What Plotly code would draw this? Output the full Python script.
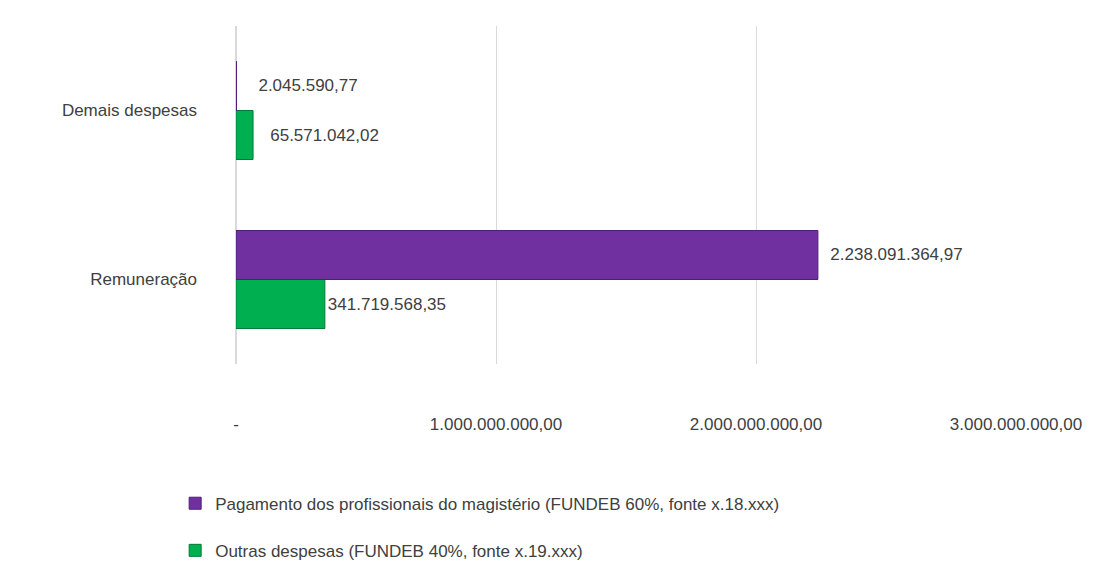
import plotly.graph_objects as go

categories = ["Remuneração", "Demais despesas"]
pagamento = [2238091364.97, 2045590.77]
outras = [341719568.35, 65571042.02]
pagamento_labels = ["  2.238.091.364,97", "    2.045.590,77"]
outras_labels = ["341.719.568,35", "   65.571.042,02"]
tick_vals = [0, 1e9, 2e9, 3e9]
tick_text = ["-", "1.000.000.000,00", "2.000.000.000,00", "3.000.000.000,00"]

txt_color = "#404040"

fig = go.Figure()
fig.add_trace(go.Bar(
    y=categories, x=outras, orientation="h",
    name="Outras despesas (FUNDEB 40%, fonte x.19.xxx)",
    legendgroup="b", legendrank=2,
    marker=dict(color="#00B050", line=dict(color="#007A37", width=1)),
    text=outras_labels, textposition="outside", cliponaxis=False,
    textfont=dict(size=17, color=txt_color),
))
fig.add_trace(go.Bar(
    y=categories, x=pagamento, orientation="h",
    name="Pagamento dos profissionais do magistério (FUNDEB 60%, fonte x.18.xxx)",
    legendgroup="a", legendrank=1,
    marker=dict(color="#7030A0", line=dict(color="#4E1F72", width=1)),
    text=pagamento_labels, textposition="outside", cliponaxis=False,
    textfont=dict(size=17, color=txt_color),
))

fig.update_layout(
    width=1103, height=573,
    barmode="group", bargap=0.42, bargroupgap=0.0,
    paper_bgcolor="white", plot_bgcolor="white",
    margin=dict(l=228, r=95, t=18, b=180),
    font=dict(family="Liberation Sans, Arial", size=16, color=txt_color),
    showlegend=True,
    legend=dict(orientation="v", x=-0.078, y=-0.36, xanchor="left", yanchor="top",
                traceorder="grouped", font=dict(size=17, color=txt_color),
                itemwidth=30, tracegroupgap=22),
)
fig.update_xaxes(
    range=[0, 3e9], tickvals=tick_vals, ticktext=tick_text,
    showgrid=True, gridcolor="#D9D9D9", gridwidth=1,
    zeroline=True, zerolinecolor="#D9D9D9", showline=False,
    tickfont=dict(size=17, color=txt_color), ticks="", ticklabelstandoff=48,
)
fig.update_yaxes(
    showgrid=False, ticks="", ticklabelstandoff=38,
    tickfont=dict(size=17, color=txt_color),
)

fig.write_html("out.html")
